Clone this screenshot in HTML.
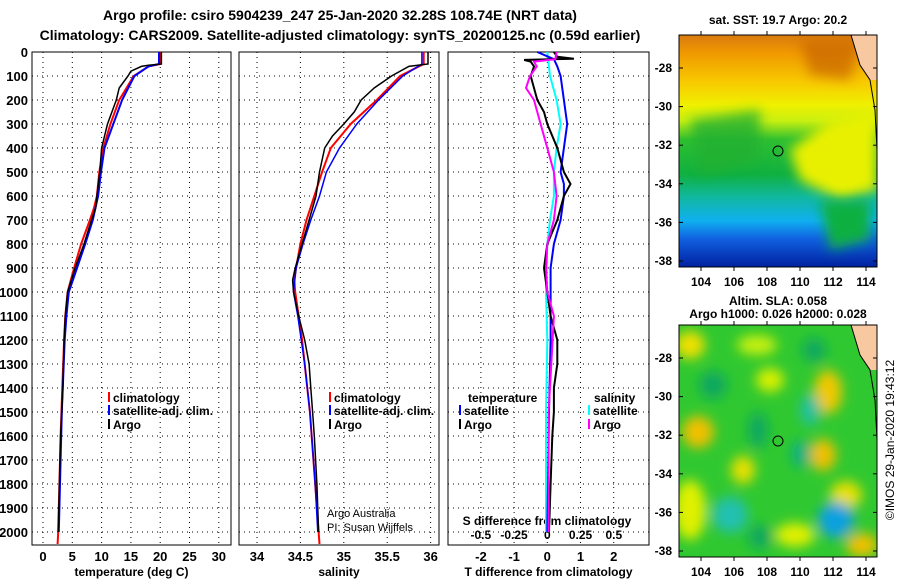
<!DOCTYPE html>
<html><head><meta charset="utf-8"><style>
body{margin:0;background:#fff;}
svg{display:block;font-family:"Liberation Sans",sans-serif;font-weight:bold;}
</style></head><body>
<svg id="c" width="900" height="580" viewBox="0 0 900 580" xmlns="http://www.w3.org/2000/svg">
<defs>
<linearGradient id="sstg" x1="0" y1="0" x2="0" y2="1">
<stop offset="0" stop-color="#d87a10"/><stop offset="0.08" stop-color="#f09a00"/>
<stop offset="0.2" stop-color="#f8c800"/><stop offset="0.3" stop-color="#f0f000"/>
<stop offset="0.37" stop-color="#c8f010"/><stop offset="0.45" stop-color="#30c030"/>
<stop offset="0.6" stop-color="#10b040"/><stop offset="0.7" stop-color="#10b8a0"/>
<stop offset="0.8" stop-color="#10b0f0"/><stop offset="0.88" stop-color="#1060e0"/>
<stop offset="1" stop-color="#0020a0"/></linearGradient>
<filter id="bl" x="-50%" y="-50%" width="200%" height="200%"><feGaussianBlur stdDeviation="6"/></filter>
<clipPath id="m1c"><rect x="679" y="35" width="198" height="232"/></clipPath>
<clipPath id="m2c"><rect x="679" y="325" width="198" height="232"/></clipPath>
</defs>
<g id="titles" font-size="14">
<text x="340" y="20" text-anchor="middle">Argo profile: csiro 5904239_247 25-Jan-2020 32.28S 108.74E (NRT data)</text>
<text x="340" y="40" text-anchor="middle">Climatology: CARS2009. Satellite-adjusted climatology: synTS_20200125.nc (0.59d earlier)</text>
</g>
<g id="panels"></g>
<g id="maps" font-size="12">
<text x="778" y="24" text-anchor="middle">sat. SST: 19.7 Argo: 20.2</text>
<g clip-path="url(#m1c)">
<rect x="679" y="35" width="198" height="232" fill="url(#sstg)"/>
<path d="M790 150 L830 120 L877 110 L877 190 L840 200 L800 180 Z" fill="#e8f000" filter="url(#bl)"/>
<path d="M690 120 L760 110 L760 160 L700 175 Z" fill="#20b030" filter="url(#bl)" opacity="0.8"/>
<path d="M800 40 L860 40 L850 80 L810 75 Z" fill="#c86400" filter="url(#bl)" opacity="0.7"/>
<path d="M820 200 L870 200 L870 240 L830 250 Z" fill="#10b040" filter="url(#bl)"/>
<path d="M851 35 L877 35 L877 80 L870 80 L860 65 Z" fill="#f8c8a0"/>
<path d="M851 35 L860 65 L870 80 L875 110 L877 150" fill="none" stroke="#000" stroke-width="1"/>
<circle cx="778" cy="151" r="5" fill="none" stroke="#000"/>
</g>
<rect x="679" y="35" width="198" height="232" fill="none" stroke="#000"/>
<text x="778" y="305" text-anchor="middle">Altim. SLA: 0.058</text>
<text x="778" y="318" text-anchor="middle">Argo h1000: 0.026 h2000: 0.028</text>
<g clip-path="url(#m2c)">
<rect x="679" y="325" width="198" height="232" fill="#30c830"/>
<g filter="url(#bl)">
<ellipse cx="690" cy="345" rx="15" ry="14" fill="#f0e000"/>
<ellipse cx="698" cy="432" rx="16" ry="16" fill="#f0c000"/>
<ellipse cx="757" cy="345" rx="20" ry="10" fill="#c8f010"/>
<ellipse cx="770" cy="380" rx="14" ry="12" fill="#d8f000"/>
<ellipse cx="828" cy="392" rx="14" ry="22" fill="#f0c800"/>
<ellipse cx="823" cy="455" rx="13" ry="16" fill="#f0c000"/>
<ellipse cx="743" cy="470" rx="12" ry="14" fill="#e8e000"/>
<ellipse cx="690" cy="510" rx="16" ry="30" fill="#e0f000"/>
<ellipse cx="846" cy="495" rx="16" ry="14" fill="#e8e000"/>
<ellipse cx="862" cy="545" rx="16" ry="12" fill="#f0c000"/>
<ellipse cx="795" cy="535" rx="20" ry="12" fill="#e0f000"/>
<ellipse cx="814" cy="350" rx="12" ry="12" fill="#10a860"/>
<ellipse cx="810" cy="410" rx="10" ry="16" fill="#20c0a0"/>
<ellipse cx="801" cy="454" rx="10" ry="14" fill="#10b080"/>
<ellipse cx="730" cy="515" rx="18" ry="18" fill="#20c0b0"/>
<ellipse cx="836" cy="520" rx="18" ry="18" fill="#10a0e0"/>
<ellipse cx="713" cy="385" rx="14" ry="14" fill="#10a860"/>
<ellipse cx="758" cy="430" rx="10" ry="18" fill="#10a860"/>
<ellipse cx="760" cy="537" rx="12" ry="12" fill="#10a860"/>
</g>
<path d="M851 325 L877 325 L877 370 L870 370 L860 355 Z" fill="#f8c8a0"/>
<path d="M851 325 L860 355 L870 370 L875 400 L877 440" fill="none" stroke="#000" stroke-width="1"/>
<circle cx="778" cy="441" r="5" fill="#30c830" stroke="#000"/>
</g>
<rect x="679" y="325" width="198" height="232" fill="none" stroke="#000"/>
<text transform="translate(894,440) rotate(-90)" text-anchor="middle" font-weight="normal" font-size="12">©IMOS 29-Jan-2020 19:43:12</text>
</g>
</svg>
<script>
// ---- data ----
const tArgoDepth=[0,50,55,60,80,100,150,200,300,400,500,600,650,700,800,900,1000,1100,1200,1300,1400,1500,1600,1800,2000];
const tArgo=[20.2,20.2,18,16.8,15,14.5,13,12.5,11,10,9.7,9.2,9,8.3,7,5.5,4.2,3.8,3.6,3.5,3.4,3.2,3.0,2.8,2.6];
const tClimDepth=[0,50,60,100,200,300,400,500,600,650,700,800,900,1000,1100,1200,1400,1600,1800,2000,2050];
const tClim=[20,20,18,15.5,13,11.5,10.3,9.6,9.2,8.7,8,6.5,5.3,4.2,3.8,3.6,3.3,3.0,2.8,2.6,2.5];
const tSatDepth=[0,50,60,100,200,300,400,500,600,700,800,900,1000,1100,1200,1500,1800,2000];
const tSat=[19.8,19.8,18,15.6,13.5,12,10.5,9.9,9.4,8.5,7.2,5.8,4.4,4.0,3.7,3.2,2.9,2.7];
const sArgoDepth=[0,50,60,100,150,200,250,300,350,400,500,600,700,800,900,950,1000,1100,1200,1300,1400,1500,1600,1800,2000];
const sArgo=[35.97,35.97,35.75,35.55,35.35,35.2,35.12,35.0,34.87,34.78,34.72,34.68,34.6,34.52,34.44,34.41,34.42,34.48,34.55,34.6,34.62,34.64,34.66,34.69,34.71];
const sClimDepth=[0,50,100,200,300,400,500,600,700,800,900,950,1000,1100,1200,1300,1500,1800,2000,2050];
const sClim=[35.92,35.92,35.65,35.38,35.08,34.85,34.75,34.66,34.57,34.5,34.45,34.43,34.44,34.48,34.52,34.55,34.61,34.67,34.71,34.72];
const sSatDepth=[0,50,100,200,300,400,500,600,700,800,900,1000,1100,1300,1500,1800,2000];
const sSat=[35.9,35.9,35.68,35.4,35.15,34.95,34.8,34.72,34.62,34.53,34.45,34.42,34.47,34.55,34.61,34.67,34.7];
const dTArgoDepth=[0,20,28,33,40,60,100,150,200,250,300,400,500,550,600,650,700,800,900,1000,1100,1200,1300,1400,1500,1600,1800,2000];
const dTArgo=[0.2,0.3,0.8,-0.7,-0.5,-0.4,-0.5,-0.4,-0.3,-0.1,0.0,0.3,0.5,0.7,0.5,0.4,0.3,0.0,-0.1,0.0,0.1,0.3,0.3,0.2,0.2,0.15,0.1,0.05];
const dTSatDepth=[0,30,60,100,200,300,400,500,550,600,700,800,900,1000,1200,1500,2000];
const dTSat=[-0.3,0.2,0.3,0.4,0.5,0.6,0.5,0.4,0.5,0.5,0.4,0.2,0.1,0.1,0.1,0.05,0.0];
const dSSatDepth=[0,100,200,300,400,500,600,700,800,1000,1200,1500,2000];
const dSSat=[0,0.02,0.07,0.1,0.07,0.05,0.05,0.02,0,-0.01,0,-0.01,-0.01];
const dSArgoDepth=[0,30,40,60,100,150,200,300,400,500,600,700,800,900,1000,1100,1200,1300,1500,2000];
const dSArgo=[0.07,0.06,-0.1,-0.08,-0.13,-0.16,-0.1,-0.05,0,0.05,0.07,0.05,0,-0.01,0,0.05,0.04,0.03,0.01,0.01];
const depthTicks=[0,100,200,300,400,500,600,700,800,900,1000,1100,1200,1300,1400,1500,1600,1700,1800,1900,2000];
const tTicks=[0,5,10,15,20,25,30];
const sTicks=[34,34.5,35,35.5,36];
const dTTicks=[-2,-1,0,1,2];
const dSTicks=[-0.5,-0.25,0,0.25,0.5];
const dSTickLabels=["-0.5","-0.25","0","0.25","0.5"];
// ---- scales ----
const Y0=52,Y1=545;
const yD=d=>Y0+d*0.24;
const xT=v=>43+v*5.86;
const xS=v=>257+(v-34)*86.8;
const xDT=v=>547.3+v*33.2;
const xDS=v=>547.3+v*133;
const NS="http://www.w3.org/2000/svg";
const root=document.getElementById('panels');
function mk(tag,attrs,parent){const e=document.createElementNS(NS,tag);for(const k in attrs)e.setAttribute(k,attrs[k]);(parent||root).appendChild(e);return e;}
function txt(x,y,s,anchor,size,parent,weight){const e=mk('text',{x:x,y:y,'text-anchor':anchor||'middle','font-size':size||12},parent);if(weight)e.setAttribute('font-weight',weight);e.textContent=s;return e;}
function line(xs,ds,fx,color,w,name){const pts=xs.map((v,i)=>fx(v).toFixed(1)+','+yD(ds[i]).toFixed(1)).join(' ');const p=mk('polyline',{points:pts,fill:'none',stroke:color,'stroke-width':w});


return p;}
function panel(x0,x1,xticks,fx,labels,xlabel,name){
  const g=mk('g',{});
  
  
  depthTicks.forEach(d=>{mk('line',{x1:x0,x2:x1,y1:yD(d),y2:yD(d),stroke:'#000','stroke-dasharray':'1,4','stroke-width':1},g);});
  xticks.forEach((v,i)=>{mk('line',{x1:fx(v),x2:fx(v),y1:Y0,y2:Y1,stroke:'#000','stroke-dasharray':'1,4'},g);
    if(labels){const t=txt(fx(v),561,labels[i],'middle',13,g);}});
  mk('rect',{x:x0,y:Y0,width:x1-x0,height:Y1-Y0,fill:'none',stroke:'#000','stroke-width':1},g);
  const xl=txt((x0+x1)/2,576,xlabel,'middle',12,g);
  
  
  return g;
}
// depth labels
depthTicks.forEach(d=>{const t=txt(28,yD(d)+5,String(d),'end',13);

});
const g1=panel(32,231,tTicks,xT,tTicks.map(String),'temperature (deg C)','temperature-panel');
const g2=panel(239,439,sTicks,xS,sTicks.map(String),'salinity','salinity-panel');
const g3=panel(448,649,dTTicks,xDT,dTTicks.map(String),'T difference from climatology','difference-panel');
dSTicks.forEach((v,i)=>{const t=txt(xDS(v),539,dSTickLabels[i],'middle',12,g3);

});
const st=txt(547,525,'S difference from climatology','middle',12,g3);


// series
line(tClim,tClimDepth,xT,'#f00',2,'temp-climatology-line');
line(tSat,tSatDepth,xT,'#00f',2,'temp-satellite-line');
line(tArgo,tArgoDepth,xT,'#000',1.5,'temp-argo-line');
line(sClim,sClimDepth,xS,'#f00',2,'sal-climatology-line');
line(sSat,sSatDepth,xS,'#00f',1.5,'sal-satellite-line');
line(sArgo,sArgoDepth,xS,'#000',1.5,'sal-argo-line');
line(dSSat,dSSatDepth,xDS,'#0ff',2,'sdiff-satellite-line');
line(dTSat,dTSatDepth,xDT,'#00f',2,'tdiff-satellite-line');
line(dTArgo,dTArgoDepth,xDT,'#000',2,'tdiff-argo-line');
line(dSArgo,dSArgoDepth,xDS,'#f0f',2,'sdiff-argo-line');
// legends
function leg(x,y,color,label,parent){const g=mk('g',{},parent);


mk('rect',{x:x,y:y-10,width:2,height:10,fill:color},g);txt(x+5,y,label,'start',12,g);}
[[g1,108],[g2,329]].forEach(([g,x])=>{leg(x,402,'#f00','climatology',g);leg(x,415,'#00f','satellite-adj. clim.',g);leg(x,429,'#000','Argo',g);});
txt(468,402,'temperature','start',12,g3);
leg(459,415,'#00f','satellite',g3);leg(459,429,'#000','Argo',g3);
txt(594,402,'salinity','start',12,g3);
leg(588,415,'#0ff','satellite',g3);leg(588,429,'#f0f','Argo',g3);
const c1=txt(327,517,'Argo Australia','start',11,g2,'normal');

const c2=txt(327,531,'PI: Susan Wijffels','start',11,g2,'normal');

// map axes
const mapLats=[-28,-30,-32,-34,-36,-38];
const mapLons=[104,106,108,110,112,114];
const mg=document.getElementById('maps');
const lonX=v=>701+(v-104)*16.5;
const latY=(v,top)=>top+33+(-28-v)*19.3;
[35,325].forEach(top=>{
 mapLats.forEach(v=>{const t=txt(672,latY(v,top)+4,String(v),'end',12,mg);
  mk('line',{x1:679,x2:683,y1:latY(v,top),y2:latY(v,top),stroke:'#000'},mg);mk('line',{x1:873,x2:877,y1:latY(v,top),y2:latY(v,top),stroke:'#000'},mg);});
 mapLons.forEach(v=>{mk('line',{x1:lonX(v),x2:lonX(v),y1:top,y2:top-4,stroke:'#000'},mg);mk('line',{x1:lonX(v),x2:lonX(v),y1:top+232,y2:top+236,stroke:'#000'},mg);
  const t=txt(lonX(v),top+251,String(v),'middle',12,mg);});
});
</script>
</body></html>
